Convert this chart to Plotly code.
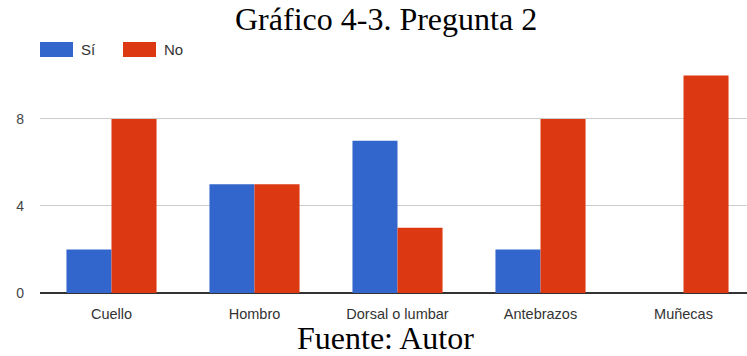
import plotly.graph_objects as go

categories = ["Cuello", "Hombro", "Dorsal o lumbar", "Antebrazos", "Muñecas"]
si_values = [2, 5, 7, 2, 0]
no_values = [8, 5, 3, 8, 10]
series_names = ["Sí", "No"]
colors = ["#3366cc", "#dc3912"]
y_ticks = [0, 4, 8]

fig = go.Figure()
fig.add_trace(go.Bar(x=categories, y=si_values, name=series_names[0], marker_color=colors[0], marker_line_width=0))
fig.add_trace(go.Bar(x=categories, y=no_values, name=series_names[1], marker_color=colors[1], marker_line_width=0))

fig.update_layout(
    width=747, height=356,
    margin=dict(l=40, r=0, t=70, b=63),
    paper_bgcolor="white", plot_bgcolor="white",
    barmode="group", bargap=0.37, bargroupgap=0,
    showlegend=False,
    font=dict(family="Liberation Sans, Arial", size=14, color="#333"),
    xaxis=dict(range=[-0.5, 4.444], showgrid=False, showline=False, ticks="",
               tickfont=dict(size=14.5, color="#333"), ticklabelstandoff=10),
    yaxis=dict(range=[0, 10.25], tickvals=y_ticks, showgrid=True, gridcolor="#cccccc", gridwidth=1,
               zeroline=True, zerolinecolor="#333333", zerolinewidth=2, showline=False,
               tickfont=dict(size=14, color="#444"), ticklabelstandoff=15),
)

# Title and source note
fig.add_annotation(text="Gráfico 4-3. Pregunta 2", xref="paper", yref="paper", x=0.5, y=1,
                   xanchor="center", yanchor="bottom", yshift=31, xshift=-8, showarrow=False,
                   font=dict(family="Liberation Serif, Times New Roman", size=32, color="#000"))
fig.add_annotation(text="Fuente: Autor", xref="paper", yref="paper", x=0.5, y=0,
                   xanchor="center", yanchor="top", yshift=-25, xshift=-8, showarrow=False,
                   font=dict(family="Liberation Serif, Times New Roman", size=32, color="#000"))

# Custom legend (wide swatches)
legend_x = [40, 123]
for i, name in enumerate(series_names):
    x0 = legend_x[i]
    fig.add_shape(type="rect", xref="paper", yref="paper",
                  x0=(x0 - 40) / 707, x1=(x0 + 33 - 40) / 707,
                  y0=(356 - 63 - 57) / 223, y1=(356 - 63 - 42) / 223,
                  fillcolor=colors[i], line=dict(width=0))
    fig.add_annotation(text=name, xref="paper", yref="paper",
                       x=(x0 + 39 - 40) / 707, y=(356 - 63 - 49.5) / 223,
                       xanchor="left", yanchor="middle", showarrow=False,
                       font=dict(size=15, color="#333"))

fig.write_html("out.html")
